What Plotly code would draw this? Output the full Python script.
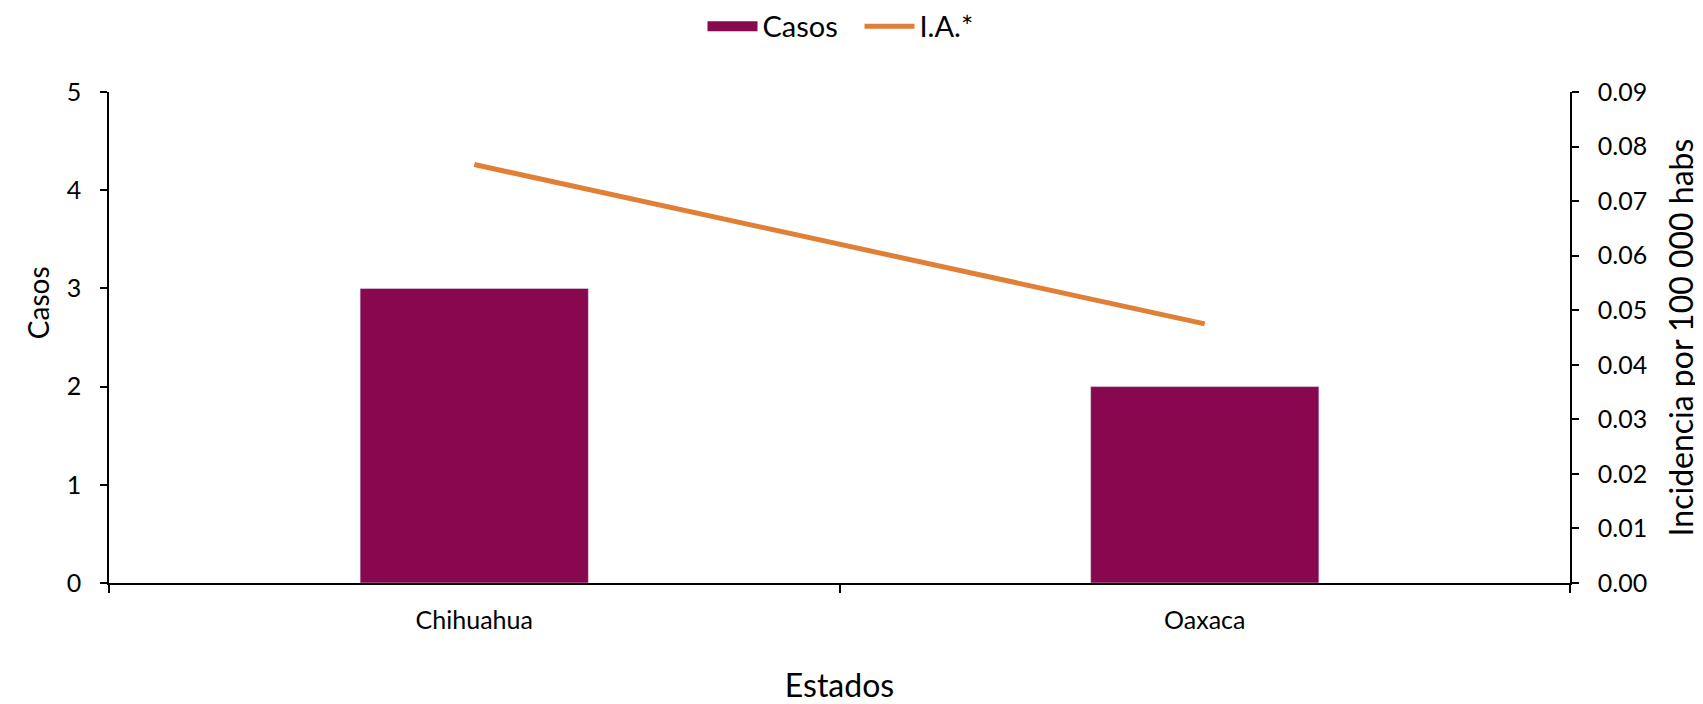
import plotly.graph_objects as go

estados = ["Chihuahua", "Oaxaca"]
casos = [3, 2]
incidencia = [0.0767, 0.0475]

bar_color = "#88084F"
line_color = "#E07F35"
font_family = "Lato, 'Open Sans', sans-serif"

fig = go.Figure()
fig.add_trace(go.Bar(x=estados, y=casos, name="Casos", marker_color=bar_color,
                     width=0.3125, yaxis="y", showlegend=False, legendgroup="casos"))
# legend entry for the bars (wide swatch like the original)
fig.add_trace(go.Scatter(x=[None], y=[None], name="Casos", mode="lines",
                         line=dict(color=bar_color, width=17), legendgroup="casos",
                         hoverinfo="skip"))
fig.add_trace(go.Scatter(x=estados, y=incidencia, name="I.A.*", mode="lines",
                         line=dict(color=line_color, width=5), yaxis="y2"))

fig.update_layout(
    width=1703, height=704,
    margin=dict(l=101, r=141, t=84, b=129, autoexpand=False),
    plot_bgcolor="white", paper_bgcolor="white",
    font=dict(family=font_family, color="black"),
    showlegend=True,
    legend=dict(orientation="h", x=0.5, xref="container", xanchor="center",
                y=0.974, yref="container", yanchor="middle", font=dict(size=29),
                traceorder="normal", itemwidth=50, entrywidth=92),
    xaxis=dict(type="category", range=[-0.5, 1.5], tickson="boundaries",
               showline=True, linecolor="black", linewidth=1.5,
               ticks="outside", ticklen=8, tickcolor="black", tickwidth=1.5,
               tickfont=dict(size=25), showgrid=False, automargin=False,
               ticklabelstandoff=14,
               title=dict(text="Estados", font=dict(size=32), standoff=42)),
    yaxis=dict(range=[0, 5], dtick=1, showline=True, linecolor="black", linewidth=1.5,
               ticks="outside", ticklen=7, tickcolor="black", tickwidth=1.5,
               showgrid=False, zeroline=False, tickfont=dict(size=25),
               automargin=False, ticklabelstandoff=14),
    yaxis2=dict(range=[0, 0.09], dtick=0.01, tickformat=".2f", overlaying="y",
                side="right", showline=True, linecolor="black", linewidth=1.5,
                ticks="outside", ticklen=7, tickcolor="black", tickwidth=1.5,
                showgrid=False, zeroline=False, tickfont=dict(size=25),
                automargin=False, ticklabelstandoff=14,
                title=dict(text="Incidencia por 100 000 habs", font=dict(size=32),
                           standoff=24)),
    annotations=[dict(text="Casos", textangle=-90, xref="paper", yref="paper",
                      x=0, y=0.57, xanchor="center", yanchor="middle", xshift=-71,
                      showarrow=False, font=dict(size=28))],
)

fig.write_html("out.html")
